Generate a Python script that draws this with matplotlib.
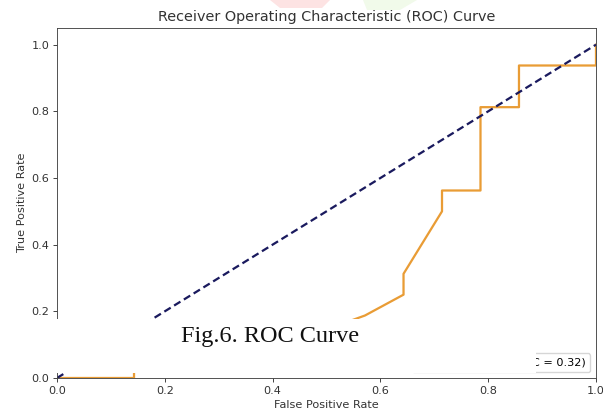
import matplotlib
matplotlib.use("Agg")
import matplotlib.pyplot as plt
from matplotlib.patches import Rectangle, Polygon

# ROC data
fpr = [0.0, 0.1429, 0.1429, 0.3571, 0.5714, 0.6429, 0.6429, 0.7143, 0.7143,
       0.7857, 0.7857, 0.8571, 0.8571, 1.0, 1.0]
tpr = [0.0, 0.0, 0.0625, 0.0625, 0.1875, 0.25, 0.3125, 0.5, 0.5625,
       0.5625, 0.8125, 0.8125, 0.9375, 0.9375, 1.0]
roc_auc = 0.32
diag = [0.0, 1.0]
x_ticks = [0.0, 0.2, 0.4, 0.6, 0.8, 1.0]
y_ticks = [0.0, 0.2, 0.4, 0.6, 0.8, 1.0]

s = 0.81
plt.rcParams.update({
    "font.family": ["DejaVu Sans"],
    "font.size": 10 * s,
    "axes.linewidth": 0.8 * s,
    "xtick.major.width": 0.8 * s,
    "ytick.major.width": 0.8 * s,
    "xtick.major.size": 3.5 * s,
    "ytick.major.size": 3.5 * s,
    "xtick.major.pad": 3.5 * s,
    "ytick.major.pad": 3.5 * s,
})

W, H = 603, 411
fig = plt.figure(figsize=(W / 100, H / 100), dpi=100)
ax = fig.add_axes([57 / W, 33 / H, 539 / W, 350 / H])

ax.plot(fpr, tpr, color="#E99C35", lw=2 * s,
        label=f"ROC curve (AUC = {roc_auc:.2f})")
ax.plot(diag, diag, color="#1a1a5e", lw=2 * s, linestyle="--", dashes=(3.3, 1.8))
ax.set_xlim(0.0, 1.0)
ax.set_ylim(0.0, 1.05)
ax.set_xticks(x_ticks)
ax.set_yticks(y_ticks)
ax.set_xlabel("False Positive Rate", color="#333333", labelpad=4 * s)
ax.set_ylabel("True Positive Rate", color="#333333", labelpad=4 * s)
ax.tick_params(colors="#333333")
for sp in ax.spines.values():
    sp.set_color("#444444")
ax.set_title("Receiver Operating Characteristic (ROC) Curve", fontsize=10.4,
             color="#333333", pad=5)
ax.legend(loc="lower right", fontsize=10 * s)

# faint watermark shapes at the top
fig.patches.append(Polygon([(270 / W, 1.0), (330 / W, 1.0), (322 / W, 1 - 8 / H), (280 / W, 1 - 8 / H)],
                           closed=True, transform=fig.transFigure, facecolor="#fde3e3",
                           edgecolor="none", zorder=0))
fig.patches.append(Polygon([(363 / W, 1.0), (417 / W, 1.0), (400 / W, 1 - 10 / H), (367 / W, 1 - 10 / H)],
                           closed=True, transform=fig.transFigure, facecolor="#f1faea",
                           edgecolor="none", zorder=0))

# overlaid caption box
fig.patches.append(Rectangle((0, 38 / H), 535.5 / W, 54 / H, transform=fig.transFigure,
                             facecolor="white", edgecolor="none", zorder=10))
fig.text(270 / W, 75 / H, "Fig.6. ROC Curve", family=["Liberation Serif", "DejaVu Serif"],
         fontsize=17.5, ha="center", va="center", color="#111111", zorder=11)

fig.savefig("out.png", dpi=100)
